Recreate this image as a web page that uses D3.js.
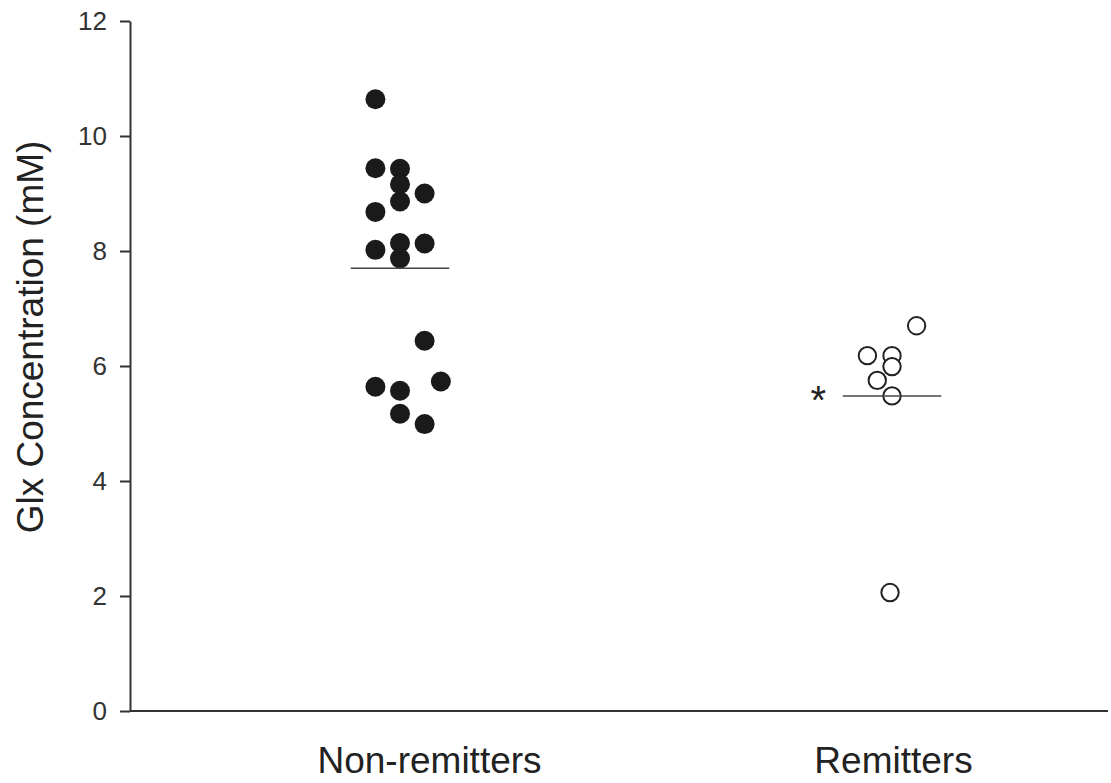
<!DOCTYPE html>
<html>
<head>
<meta charset="utf-8">
<script src="https://d3js.org/d3.v7.min.js"></script>
<style>
  body { margin: 0; background: #fff; }
  svg text { font-family: "Liberation Sans", Arial, sans-serif; fill: #222; }
  .axis path, .axis line { stroke: #333; stroke-width: 2; }
</style>
</head>
<body>
<svg id="chart" width="1111" height="783"></svg>
<script>
  // data
  const categories = ["Non-remitters", "Remitters"]
  const nonRemitters = [10.64, 9.44, 9.43, 9.16, 9.0, 8.86, 8.68, 8.02, 8.14, 8.13, 7.87, 6.44, 5.64, 5.57, 5.73, 5.17, 4.99]
  const nonRemittersJitter = [-0.05, -0.05, 0, 0, 0.05, 0, -0.05, -0.05, 0, 0.05, 0, 0.05, -0.05, 0, 0.083, 0, 0.05]
  const remitters = [6.70, 6.18, 6.18, 5.99, 5.75, 5.48, 2.06]
  const remittersJitter = [0.05, -0.05, 0, 0, -0.03, 0, -0.004]
  const yTicks = [0, 2, 4, 6, 8, 10, 12]
  const labelPos = [1.06, 2.003]

  const svg = d3.select("#chart")
  const margin = {top: 21, right: 3, bottom: 72, left: 130}
  const width = svg.attr("width") - margin.left - margin.right
  const height = svg.attr("height") - margin.top - margin.bottom

  const x = d3.scaleLinear().domain([0.4512, 2.439]).range([0, width])
  const y = d3.scaleLinear().domain([0, 12]).range([height, 0])

  const g = svg.append("g").attr("transform", "translate(" + margin.left + "," + margin.top + ")")

  // y axis
  const yAxis = g.append("g").attr("class", "axis")
    .call(d3.axisLeft(y).tickValues(yTicks).tickSize(10).tickSizeOuter(0).tickPadding(13))
  yAxis.select(".domain").attr("stroke", "#333")
  yAxis.selectAll("text").style("font-size", "26px").style("fill", "#333")

  // x axis (plain line)
  g.append("line")
    .attr("x1", 0).attr("x2", width)
    .attr("y1", height).attr("y2", height)
    .attr("stroke", "#333").attr("stroke-width", 2)

  // axis title
  svg.append("text")
    .attr("transform", "translate(43,337) rotate(-90)")
    .style("text-anchor", "middle")
    .style("font-size", "37px")
    .text("Glx Concentration (mM)")

  // category labels
  g.selectAll(".cat")
    .data(categories).enter()
    .append("text")
    .attr("class", "cat")
    .attr("x", (d, i) => x(labelPos[i]))
    .attr("y", height + 62)
    .style("text-anchor", "middle")
    .style("font-size", "37px")
    .text(d => d)

  const groups = [
    {pos: 1, values: nonRemitters, jitter: nonRemittersJitter, filled: true},
    {pos: 2, values: remitters, jitter: remittersJitter, filled: false}
  ]

  groups.forEach(grp => {
    const pts = grp.values.map((v, i) => ({x: grp.pos + grp.jitter[i], y: v}))
    g.selectAll(null)
      .data(pts).enter()
      .append("circle")
      .attr("cx", d => x(d.x))
      .attr("cy", d => y(d.y))
      .attr("r", grp.filled ? 10 : 8.7)
      .attr("fill", grp.filled ? "#1a1a1a" : "#fff")
      .attr("stroke", "#222")
      .attr("stroke-width", grp.filled ? 0 : 2)

    // mean line
    const m = d3.mean(grp.values)
    g.append("line")
      .attr("x1", x(grp.pos - 0.1)).attr("x2", x(grp.pos + 0.1))
      .attr("y1", y(m)).attr("y2", y(m))
      .attr("stroke", "#444").attr("stroke-width", 1.6)
  })

  // significance marker
  g.append("text")
    .attr("x", x(1.85))
    .attr("y", y(d3.mean(remitters)) + 18)
    .style("text-anchor", "middle")
    .style("font-size", "40px")
    .text("*")
</script>
</body>
</html>
